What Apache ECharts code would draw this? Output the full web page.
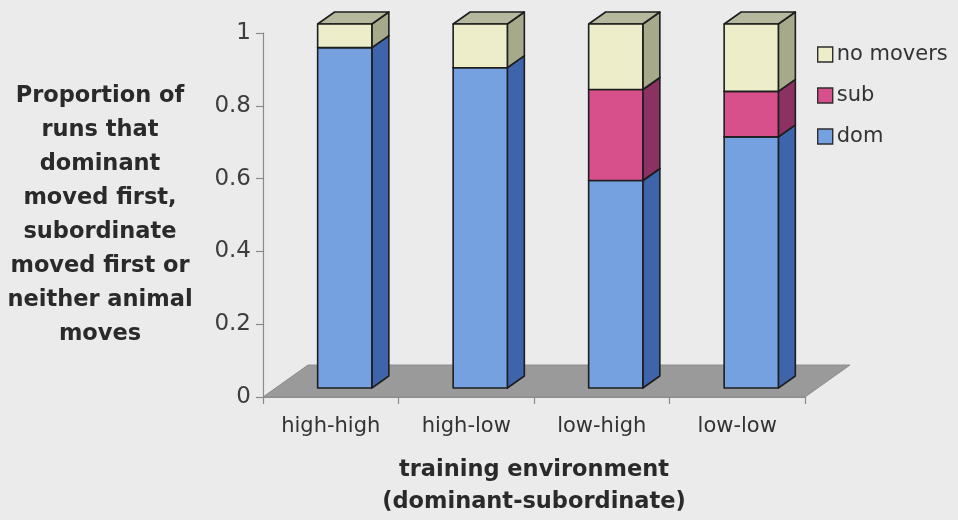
<!DOCTYPE html>
<html>
<head>
<meta charset="utf-8">
<script src="https://cdn.jsdelivr.net/npm/echarts@6/dist/echarts.min.js"></script>
<style>
  html, body { margin: 0; padding: 0; background: #ebebeb; }
  #chart { width: 958px; height: 520px; }
</style>
</head>
<body>
<div id="chart"></div>
<script>
// Training environments (dominant-subordinate)
var categories = ['high-high', 'high-low', 'low-high', 'low-low'];
// Proportion of runs per outcome
var domValues = [0.935, 0.88, 0.57, 0.69];
var subValues = [0, 0, 0.25, 0.125];
var noMoverValues = [0.065, 0.12, 0.18, 0.185];
var yTicks = [0, 0.2, 0.4, 0.6, 0.8, 1];

var FONT = '"DejaVu Sans", "Liberation Sans", sans-serif';
var EDGE = '#1e1e1e';

// 3D look: bars sit a little behind the front plane and have a shallow depth
var BAR_SHIFT = [14, -9];
var BAR_DEPTH = [17, -12];
var FLOOR_DEPTH = [45, -32];

var palette = {
  dom:  { front: '#76a1e0', side: '#3e64ab', top: '#5a86cf' },
  sub:  { front: '#d8508b', side: '#8c3262', top: '#b23e74' },
  none: { front: '#edeec9', side: '#a7a98b', top: '#b6b99d' }
};

function stackData(values, below) {
  return values.map(function (v, i) {
    var base = below ? below[i] : 0;
    return [i, base, base + v];
  });
}
var domStack = stackData(domValues);
var domTops = domStack.map(function (d) { return d[2]; });
var subStack = stackData(subValues, domTops);
var subTops = subStack.map(function (d) { return d[2]; });
var noneStack = stackData(noMoverValues, subTops);

function barRenderer(colors) {
  return function (params, api) {
    var idx = api.value(0);
    var lo = api.value(1);
    var hi = api.value(2);
    if (hi - lo <= 0) return null;
    var band = api.size([1, 0])[0];
    var w = band * 0.4;
    var pLo = api.coord([idx, lo]);
    var pHi = api.coord([idx, hi]);
    var x0 = pLo[0] - w / 2 + BAR_SHIFT[0];
    var x1 = x0 + w;
    var yb = pLo[1] + BAR_SHIFT[1];
    var yt = pHi[1] + BAR_SHIFT[1];
    var dx = BAR_DEPTH[0], dy = BAR_DEPTH[1];
    var stroke = { stroke: EDGE, lineWidth: 1.6, lineJoin: 'round' };
    return {
      type: 'group',
      children: [
        {
          type: 'polygon',
          shape: { points: [[x1, yb], [x1 + dx, yb + dy], [x1 + dx, yt + dy], [x1, yt]] },
          style: Object.assign({ fill: colors.side }, stroke)
        },
        {
          type: 'polygon',
          shape: { points: [[x0, yt], [x1, yt], [x1 + dx, yt + dy], [x0 + dx, yt + dy]] },
          style: Object.assign({ fill: colors.top }, stroke)
        },
        {
          type: 'rect',
          shape: { x: x0, y: yt, width: w, height: yb - yt },
          style: Object.assign({ fill: colors.front }, stroke)
        }
      ]
    };
  };
}

function floorRenderer(params, api) {
  var band = api.size([1, 0])[0];
  var left = api.coord([0, 0]);
  var right = api.coord([categories.length - 1, 0]);
  var xl = left[0] - band / 2;
  var xr = right[0] + band / 2;
  var y = left[1];
  return {
    type: 'polygon',
    shape: {
      points: [[xl, y], [xr, y], [xr + FLOOR_DEPTH[0], y + FLOOR_DEPTH[1]], [xl + FLOOR_DEPTH[0], y + FLOOR_DEPTH[1]]]
    },
    style: { fill: '#9a9a9a', stroke: '#8e8e8e', lineWidth: 1 }
  };
}

var legendIcon = function (c) {
  return { color: c, borderColor: '#2e2e2e', borderWidth: 1.4 };
};

var chart = echarts.init(document.getElementById('chart'));
chart.setOption({
  backgroundColor: '#ebebeb',
  animation: false,
  textStyle: { fontFamily: FONT },
  grid: { left: 263, right: 153, top: 33, bottom: 123, outerBoundsMode: 'none' },
  legend: {
    orient: 'vertical',
    left: 817,
    top: 44,
    padding: 0,
    itemWidth: 15,
    itemHeight: 15,
    itemGap: 20,
    icon: 'rect',
    textStyle: { fontSize: 21, color: '#333333', fontFamily: FONT, padding: [0, 0, 0, -1] },
    data: [
      { name: 'no movers', itemStyle: legendIcon(palette.none.front) },
      { name: 'sub', itemStyle: legendIcon(palette.sub.front) },
      { name: 'dom', itemStyle: legendIcon(palette.dom.front) }
    ]
  },
  xAxis: {
    type: 'category',
    data: categories,
    boundaryGap: true,
    axisLine: { lineStyle: { color: '#8a8a8a', width: 1.2 } },
    axisTick: { show: true, alignWithLabel: false, length: 7, lineStyle: { color: '#8a8a8a', width: 1.2 } },
    axisLabel: { fontSize: 21, color: '#333333', margin: 19, fontFamily: FONT },
    splitLine: { show: false },
    name: 'training environment\n(dominant-subordinate)',
    nameLocation: 'middle',
    nameGap: 57,
    nameTextStyle: { fontSize: 22.5, fontWeight: 'bold', color: '#2a2a2a', lineHeight: 32, fontFamily: FONT }
  },
  yAxis: {
    type: 'value',
    min: 0,
    max: 1,
    interval: 0.2,
    axisLine: { show: true, lineStyle: { color: '#8a8a8a', width: 1.2 } },
    axisTick: { show: true, length: 7, lineStyle: { color: '#8a8a8a', width: 1.2 } },
    axisLabel: {
      fontSize: 23, color: '#3d3d3d', margin: 12, fontFamily: FONT,
      formatter: function (v) {
        var t = yTicks.find(function (k) { return Math.abs(k - v) < 1e-9; });
        return t === undefined ? '' : String(t);
      }
    },
    splitLine: { show: false }
  },
  graphic: [
    {
      type: 'text',
      left: 0,
      top: 79,
      style: {
        text: 'Proportion of\nruns that\ndominant\nmoved first,\nsubordinate\nmoved first or\nneither animal\nmoves',
        fontSize: 22.5,
        fontWeight: 'bold',
        fontFamily: FONT,
        fill: '#2a2a2a',
        lineHeight: 34,
        width: 200,
        align: 'center',
        textAlign: 'center'
      }
    }
  ],
  series: [
    {
      type: 'custom',
      name: 'floor',
      z: 1,
      silent: true,
      renderItem: floorRenderer,
      data: [[0, 0]],
      encode: { x: 0, y: 1 }
    },
    {
      type: 'custom',
      name: 'dom',
      z: 3,
      itemStyle: { color: palette.dom.front },
      renderItem: barRenderer(palette.dom),
      data: domStack,
      encode: { x: 0, y: [1, 2] }
    },
    {
      type: 'custom',
      name: 'sub',
      z: 4,
      itemStyle: { color: palette.sub.front },
      renderItem: barRenderer(palette.sub),
      data: subStack,
      encode: { x: 0, y: [1, 2] }
    },
    {
      type: 'custom',
      name: 'no movers',
      z: 5,
      itemStyle: { color: palette.none.front },
      renderItem: barRenderer(palette.none),
      data: noneStack,
      encode: { x: 0, y: [1, 2] }
    }
  ]
});
</script>
</body>
</html>
